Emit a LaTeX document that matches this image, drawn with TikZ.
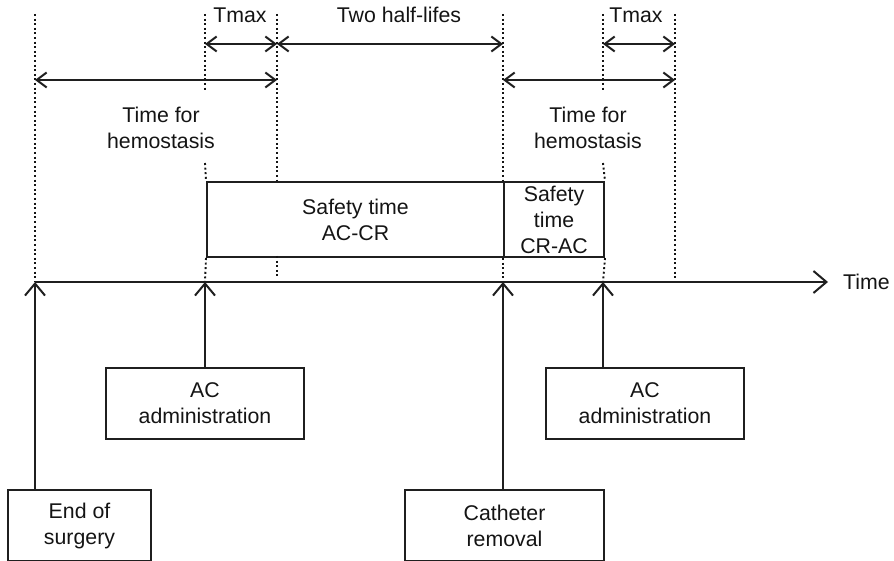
\documentclass[tikz,border=0pt]{standalone}
\usepackage{fontspec}
\setmainfont{Liberation Sans}
\usetikzlibrary{arrows.meta}
\begin{document}
\begin{tikzpicture}[x=1pt,y=-1pt,
  txt/.style={font=\fontsize{21.3}{26}\selectfont, text=black!92, align=center, inner sep=0pt},
  box/.style={draw=black!88, line width=2pt, txt, anchor=north west},
  guide/.style={draw=black!92, line width=1.9pt, dash pattern=on 2pt off 2.6pt},
  span/.style={draw=black!88, line width=2pt,
    {Straight Barb[length=10pt,width=15pt]}-{Straight Barb[length=10pt,width=15pt]}},
  rise/.style={draw=black!88, line width=2pt, -{Straight Barb[length=12pt,width=20pt]}},
  axis/.style={draw=black!88, line width=2pt, -{Straight Barb[length=13pt,width=22pt]}},
]
\useasboundingbox (0,0) rectangle (894,561);

% marks on the time axis
\coordinate (t0) at (35,282);
\coordinate (t1) at (205,282);
\coordinate (t2) at (503,282);
\coordinate (t3) at (603,282);
\coordinate (tend) at (828,282);

% arrow levels
\coordinate (a1) at (205,44);  \coordinate (b1) at (277,44);
\coordinate (c1) at (503,44);  \coordinate (d1) at (603,44);
\coordinate (e1) at (675,44);
\coordinate (h0) at (35,80);   \coordinate (h1) at (277,80);
\coordinate (h2) at (503,80);  \coordinate (h3) at (675,80);

% safety time boxes
\node[box, minimum width=297pt, minimum height=75pt] (accr) at (206,181)
  {Safety time\\AC-CR};
\node[box, minimum width=100pt, minimum height=75pt] (crac) at (503,181)
  {Safety\\time\\CR-AC};

% dotted guide lines
\draw[guide] (35,14) -- (t0);
\draw[guide] (205,14) -- (205,92);
\draw[guide] (205,163) -- (accr.north west);
\draw[guide] (accr.south west) -- (t1);
\draw[guide] (277,14) -- (277,181);
\draw[guide] (277,256) -- (277,278);
\draw[guide] (503,14) -- (crac.north west);
\draw[guide] (crac.south west) -- (t2);
\draw[guide] (603,14) -- (603,92);
\draw[guide] (603,163) -- (crac.north east);
\draw[guide] (crac.south east) -- (t3);
\draw[guide] (675,14) -- (675,278);

% intervals
\draw[span] (a1) -- (b1);
\draw[span] (b1) -- (c1);
\draw[span] (d1) -- (e1);
\draw[span] (h0) -- (h1);
\draw[span] (h2) -- (h3);

\node[txt] (tmax1) at (240,15) {Tmax};
\node[txt] (half) at (399,15) {Two half-lifes};
\node[txt] (tmax2) at (636,15) {Tmax};
\node[txt] (hemo1) at (161,128) {Time for\\hemostasis};
\node[txt] (hemo2) at (588,128) {Time for\\hemostasis};

% time axis
\draw[axis] (t0) -- (tend);
\node[txt, anchor=west] (time) at (843,282) {Time};

% events
\node[box, minimum width=143pt, minimum height=71pt] (eos) at (7,489)
  {End of\\surgery};
\node[box, minimum width=198pt, minimum height=71pt] (ac1) at (105,367)
  {AC\\administration};
\node[box, minimum width=199pt, minimum height=71pt] (cr) at (404,489)
  {Catheter\\removal};
\node[box, minimum width=198pt, minimum height=71pt] (ac2) at (545,367)
  {AC\\administration};

\draw[rise] (t0 |- eos.north) -- (t0);
\draw[rise] (t1 |- ac1.north) -- (t1);
\draw[rise] (t2 |- cr.north) -- (t2);
\draw[rise] (t3 |- ac2.north) -- (t3);
\end{tikzpicture}
\end{document}
